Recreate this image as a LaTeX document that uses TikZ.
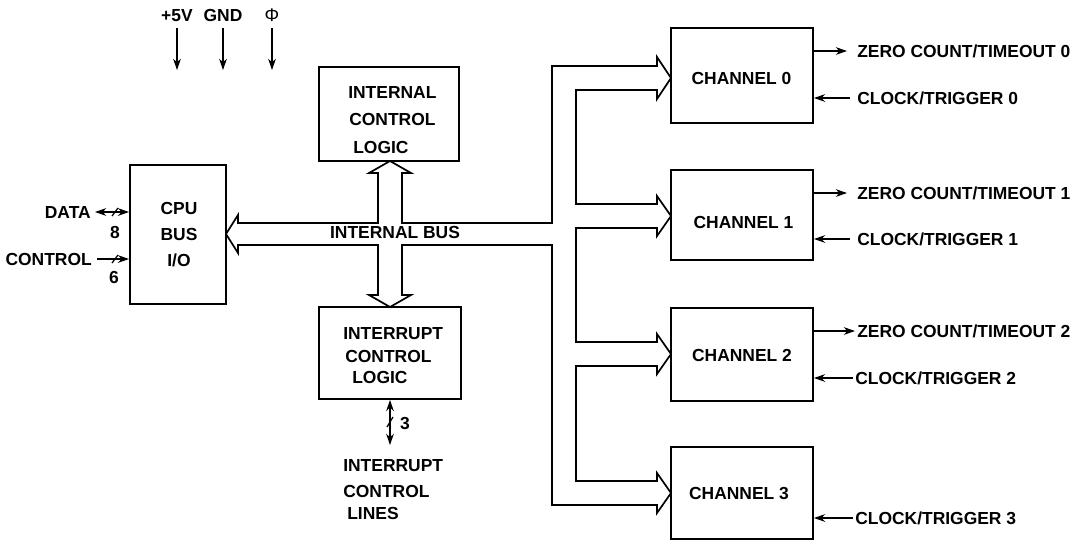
\documentclass[tikz,border=0pt]{standalone}
\usepackage{fontspec}
\setmainfont{Liberation Sans}
\usetikzlibrary{arrows.meta}
\begin{document}
\begin{tikzpicture}[x=0.025cm,y=-0.025cm,
  box/.style={draw, line width=1.3pt, inner sep=0pt},
  lbl/.style={font=\fontsize{12.4}{15}\selectfont\bfseries, inner sep=0pt, text height=9pt, text depth=0pt},
  sig/.style={-{Stealth[length=8pt,width=5.5pt]}, line width=1.1pt},
  dsig/.style={{Stealth[length=8pt,width=5.5pt]}-{Stealth[length=8pt,width=5.5pt]}, line width=1.1pt},
  tick/.style={line width=0.9pt},
  bus/.style={draw, line width=1.2pt, line join=miter}]
\useasboundingbox (0,0) rectangle (1084,541);

% boxes
\node[box, minimum width=2.4cm, minimum height=3.475cm] (cpu) at (178,234.5) {};
\node[box, minimum width=3.5cm, minimum height=2.35cm] (icl) at (389,114) {};
\node[box, minimum width=3.55cm, minimum height=2.3cm] (irq) at (390,353) {};
\node[box, minimum width=3.55cm, minimum height=2.375cm] (ch0) at (742,75.5) {};
\node[box, minimum width=3.55cm, minimum height=2.25cm] (ch1) at (742,215) {};
\node[box, minimum width=3.55cm, minimum height=2.325cm] (ch2) at (742,354.5) {};
\node[box, minimum width=3.55cm, minimum height=2.3cm] (ch3) at (742,493) {};

% box texts
\node[lbl] (cput1) at (179,208) {CPU};
\node[lbl] (cput2) at (179,234) {BUS};
\node[lbl] (cput3) at (179,260) {I/O};
\node[lbl, anchor=west] (iclt1) at (348,92) {INTERNAL};
\node[lbl, anchor=west] (iclt2) at (349,119) {CONTROL};
\node[lbl, anchor=west] (iclt3) at (353,147) {LOGIC};
\node[lbl, anchor=west] (irqt1) at (343,333) {INTERRUPT};
\node[lbl, anchor=west] (irqt2) at (345,356) {CONTROL};
\node[lbl, anchor=west] (irqt3) at (352,377) {LOGIC};
\node[lbl] (ch0t) at (741.5,78) {CHANNEL 0};
\node[lbl] (ch1t) at (743.5,222) {CHANNEL 1};
\node[lbl] (ch2t) at (742,355) {CHANNEL 2};
\node[lbl] (ch3t) at (739,493) {CHANNEL 3};

% internal bus outline
\path[bus] (238,223) -- (378,223) -- (378,173) -- (369,173) -- (390,161) -- (411,173) -- (402,173)
  -- (402,223) -- (552,223) -- (552,66) -- (657,66) -- (657,57) -- (671,78) -- (657,99) -- (657,90)
  -- (576,90) -- (576,204) -- (657,204) -- (657,196) -- (671,216) -- (657,236) -- (657,228)
  -- (576,228) -- (576,342) -- (657,342) -- (657,334) -- (671,354) -- (657,374) -- (657,366)
  -- (576,366) -- (576,481) -- (657,481) -- (657,473) -- (671,493) -- (657,513) -- (657,505)
  -- (552,505) -- (552,245) -- (402,245) -- (402,295) -- (411,295) -- (390,307) -- (369,295)
  -- (378,295) -- (378,245) -- (238,245) -- (238,253) -- (226,234) -- (238,215) -- cycle;
\node[lbl] (busl) at (395,232) {INTERNAL BUS};

% power inputs
\node[lbl] (v5) at (177,15) {+5V};
\node[lbl] (gnd) at (223,15) {GND};
\node[font=\fontsize{13}{14}\selectfont, inner sep=0pt, text height=9pt, text depth=0pt] (phi) at (272,15) {Φ};
\coordinate (v5a) at (177,28); \coordinate (v5b) at (177,70);
\coordinate (gnda) at (223,28); \coordinate (gndb) at (223,70);
\coordinate (phia) at (272,28); \coordinate (phib) at (272,70);
\draw[sig] (v5a) -- (v5b);
\draw[sig] (gnda) -- (gndb);
\draw[sig] (phia) -- (phib);

% CPU side signals
\node[lbl, anchor=east] (data) at (91,212) {DATA};
\draw[dsig] ([xshift=0.1cm]data.east) -- (cpu.west |- data);
\draw[tick] (112,216) -- (118,208);
\node[lbl] (n8) at (115,232) {8};
\node[lbl, anchor=east] (ctrl) at (92,259) {CONTROL};
\draw[sig] ([xshift=0.125cm]ctrl.east) -- (cpu.west |- ctrl);
\draw[tick] (112,263) -- (118,255);
\node[lbl] (n6) at (114,277) {6};

% interrupt lines
\coordinate (iend) at (390,445);
\draw[dsig] (irq.south) -- (iend);
\draw[tick] (387,427) -- (393,417);
\node[lbl] (n3) at (405,423) {3};
\node[lbl, anchor=west] (il1) at (343,465) {INTERRUPT};
\node[lbl, anchor=west] (il2) at (343,491) {CONTROL};
\node[lbl, anchor=west] (il3) at (347,513) {LINES};

% channel outputs / inputs
\node[lbl, anchor=west] (z0) at (857,51) {ZERO COUNT/TIMEOUT 0};
\node[lbl, anchor=west] (c0) at (857,98) {CLOCK/TRIGGER 0};
\node[lbl, anchor=west] (z1) at (857,193) {ZERO COUNT/TIMEOUT 1};
\node[lbl, anchor=west] (c1) at (857,239) {CLOCK/TRIGGER 1};
\node[lbl, anchor=west] (z2) at (857,331) {ZERO COUNT/TIMEOUT 2};
\node[lbl, anchor=west] (c2) at (855,378) {CLOCK/TRIGGER 2};
\node[lbl, anchor=west] (c3) at (855,518) {CLOCK/TRIGGER 3};

\draw[sig] (ch0.east |- z0) -- ([xshift=-0.25cm]z0.west);
\draw[sig] ([xshift=-0.175cm]c0.west) -- (ch0.east |- c0);
\draw[sig] (ch1.east |- z1) -- ([xshift=-0.25cm]z1.west);
\draw[sig] ([xshift=-0.175cm]c1.west) -- (ch1.east |- c1);
\draw[sig] (ch2.east |- z2) -- ([xshift=-0.05cm]z2.west);
\draw[sig] ([xshift=-0.05cm]c2.west) -- (ch2.east |- c2);
\draw[sig] ([xshift=-0.05cm]c3.west) -- (ch3.east |- c3);
\end{tikzpicture}
\end{document}
